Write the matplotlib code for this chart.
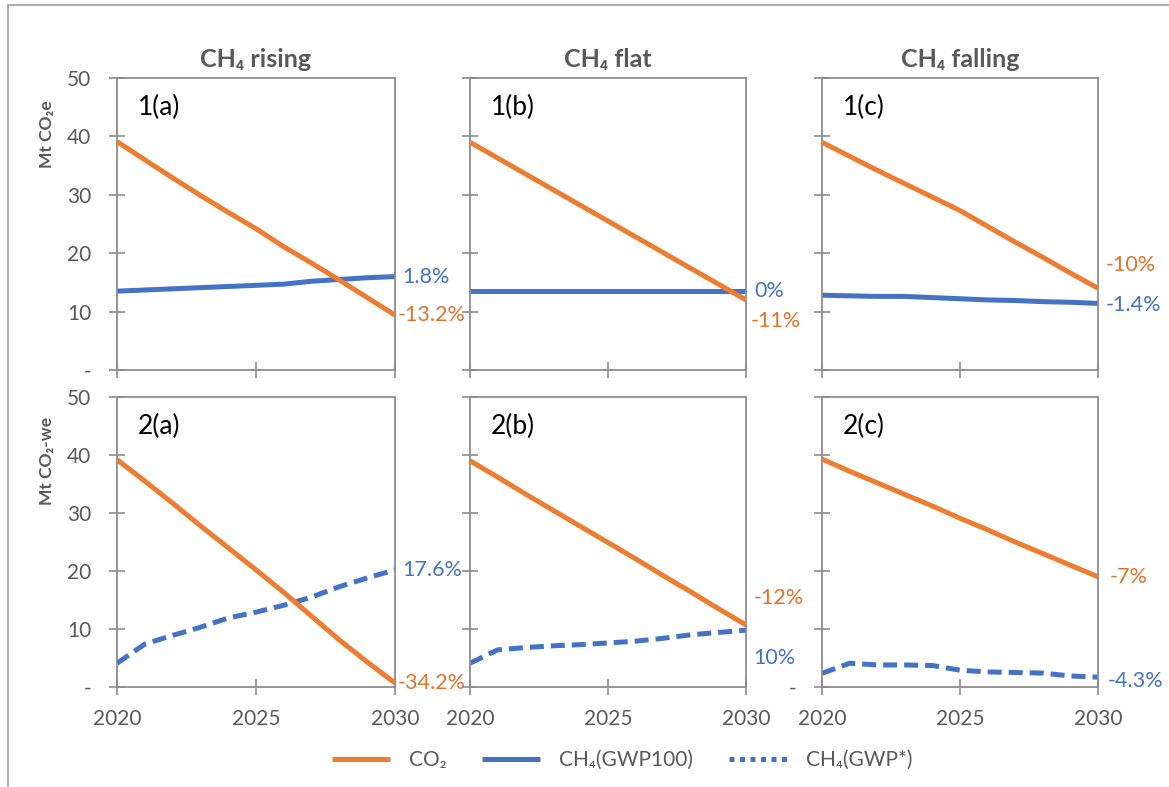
import matplotlib
matplotlib.use("Agg")
import matplotlib.pyplot as plt
from matplotlib.lines import Line2D
from matplotlib.patches import Rectangle

plt.rcParams['font.family'] = ['Lato', 'DejaVu Sans']

years = [2020, 2021, 2022, 2023, 2024, 2025, 2026, 2027, 2028, 2029, 2030]

# Row 1: GWP100 (Mt CO2e)
co2_1a = [39.1, 36.0, 32.9, 29.9, 27.0, 24.2, 21.1, 18.3, 15.4, 12.4, 9.4]
ch4_1a = [13.5, 13.7, 13.9, 14.1, 14.3, 14.5, 14.7, 15.2, 15.5, 15.8, 16.0]
co2_1b = [39.0, 36.3, 33.6, 30.9, 28.2, 25.5, 22.8, 20.1, 17.4, 14.7, 12.0]
ch4_1b = [13.6, 13.6, 13.6, 13.6, 13.6, 13.6, 13.6, 13.6, 13.6, 13.6, 13.6]
co2_1c = [39.0, 36.6, 34.2, 31.9, 29.6, 27.3, 24.6, 21.9, 19.3, 16.6, 14.0]
ch4_1c = [12.8, 12.7, 12.6, 12.6, 12.4, 12.2, 12.0, 11.9, 11.7, 11.6, 11.4]

# Row 2: GWP* (Mt CO2-we)
co2_2a = [39.2, 35.5, 31.7, 27.8, 24.0, 20.2, 16.3, 12.2, 8.1, 4.3, 0.7]
ch4_2a = [4.1, 7.4, 8.9, 10.3, 11.9, 12.9, 14.1, 15.5, 17.3, 18.8, 20.2]
co2_2b = [39.0, 36.2, 33.3, 30.5, 27.7, 24.9, 22.1, 19.2, 16.4, 13.5, 10.7]
ch4_2b = [4.1, 6.4, 6.8, 7.1, 7.3, 7.6, 7.9, 8.4, 9.0, 9.4, 9.8]
co2_2c = [39.3, 37.2, 35.2, 33.2, 31.2, 29.1, 27.1, 25.0, 23.0, 21.0, 19.0]
ch4_2c = [2.35, 4.1, 3.8, 3.8, 3.7, 2.9, 2.6, 2.5, 2.4, 1.9, 1.7]

col_titles = ["CH₄ rising", "CH₄ flat", "CH₄ falling"]
panel_labels = [["1(a)", "1(b)", "1(c)"], ["2(a)", "2(b)", "2(c)"]]
co2_pct = [["-13.2%", "-11%", "-10%"], ["-34.2%", "-12%", "-7%"]]
ch4_pct = [["1.8%", "0%", "-1.4%"], ["17.6%", "10%", "-4.3%"]]
row_ylabels = ["Mt CO₂e", "Mt CO₂-we"]
yticks = [0, 10, 20, 30, 40, 50]
ytick_labels = ["-", "10", "20", "30", "40", "50"]
xticks = [2020, 2025, 2030]
legend_labels = ["CO₂", "CH₄(GWP100)", "CH₄(GWP*)"]

co2 = [[co2_1a, co2_1b, co2_1c], [co2_2a, co2_2b, co2_2c]]
ch4 = [[ch4_1a, ch4_1b, ch4_1c], [ch4_2a, ch4_2b, ch4_2c]]

ORANGE = "#ED7D31"
ORANGE_T = "#E2722A"
BLUE = "#4472C4"
GREY = "#8C8C8C"
TXT = "#595959"

W, H = 1169, 787
fig = plt.figure(figsize=(W / 100, H / 100), dpi=100)

col_left = [117, 470, 822]
col_w = [278, 276, 276]
row_top = [78, 397]
row_bot = [370, 687]

# label offsets in pixels (co2, ch4) per panel
co2_off = [[(3, 0), (5, -21), (8, 23)], [(3, 0), (8, 27), (12, 0)]]
ch4_off = [[(7, 0), (8, 0), (8, -2)], [(7, 0), (7, -28), (10, -4)]]

for r in range(2):
    for c in range(3):
        left = col_left[c] / W
        bottom = (H - row_bot[r]) / H
        height = (row_bot[r] - row_top[r]) / H
        ax = fig.add_axes([left, bottom, col_w[c] / W, height])
        ax.plot(years, co2[r][c], color=ORANGE, lw=3.6, solid_capstyle='butt', zorder=3)
        if r == 0:
            ax.plot(years, ch4[r][c], color=BLUE, lw=3.6, solid_capstyle='butt', zorder=2)
        else:
            ax.plot(years, ch4[r][c], color=BLUE, lw=3.6, dashes=(2.8, 1.4),
                    dash_capstyle='butt', zorder=2)
        ax.set_xlim(2020, 2030)
        ax.set_ylim(0, 50)
        ax.set_yticks(yticks)
        ax.set_xticks(xticks)
        for s in ax.spines.values():
            s.set_color(GREY)
            s.set_linewidth(1.3)
        ax.tick_params(direction='inout', length=11, width=1.2, color=GREY,
                       labelcolor=TXT, labelsize=15)
        ax.tick_params(axis='y', pad=13)
        ax.tick_params(axis='x', pad=10)
        if c == 0:
            ax.set_yticklabels(ytick_labels)
        elif r == 1 and c == 2:
            ax.set_yticklabels(["-", "", "", "", "", ""])
        else:
            ax.set_yticklabels([])
        if r == 1:
            ax.set_xticklabels([str(x) for x in xticks])
        else:
            ax.set_xticklabels([])
        if r == 0:
            ax.set_title(col_titles[c], fontsize=18, fontweight='bold', color=TXT, pad=8)
        ax.text(0.075, 0.90, panel_labels[r][c], transform=ax.transAxes,
                fontsize=19, color="black", ha='left', va='center')
        ax.annotate(co2_pct[r][c], xy=(years[-1], co2[r][c][-1]),
                    xytext=co2_off[r][c], textcoords='offset pixels',
                    ha='left', va='center', fontsize=15.5, color=ORANGE_T,
                    annotation_clip=False, zorder=5)
        ax.annotate(ch4_pct[r][c], xy=(years[-1], ch4[r][c][-1]),
                    xytext=ch4_off[r][c], textcoords='offset pixels',
                    ha='left', va='center', fontsize=15.5, color=BLUE,
                    annotation_clip=False, zorder=5)

# row y labels
fig.text(47 / W, 1 - 134 / H, row_ylabels[0], rotation=90, ha='center', va='center',
         fontsize=12.5, fontweight='bold', color=TXT)
fig.text(47 / W, 1 - 461 / H, row_ylabels[1], rotation=90, ha='center', va='center',
         fontsize=12.5, fontweight='bold', color=TXT)

# outer border (left and top edges visible)
fig.add_artist(Rectangle((8 / W, -0.1), 1.2, 1 - 5 / H + 0.1, transform=fig.transFigure,
                         fill=False, edgecolor="#A6A6A6", lw=1.3))

handles = [
    Line2D([0], [0], color=ORANGE, lw=3.6, solid_capstyle='butt'),
    Line2D([0], [0], color=BLUE, lw=3.6, solid_capstyle='butt'),
    Line2D([0], [0], color=BLUE, lw=3.6, dashes=(1, 1.1), dash_capstyle='butt'),
]
fig.legend(handles, legend_labels, loc='center', bbox_to_anchor=(622 / W, 1 - 760 / H),
           ncol=3, frameon=False, fontsize=15, handlelength=2.8, handletextpad=0.9,
           columnspacing=1.7, labelcolor=TXT)

fig.savefig("out.png", dpi=100)
